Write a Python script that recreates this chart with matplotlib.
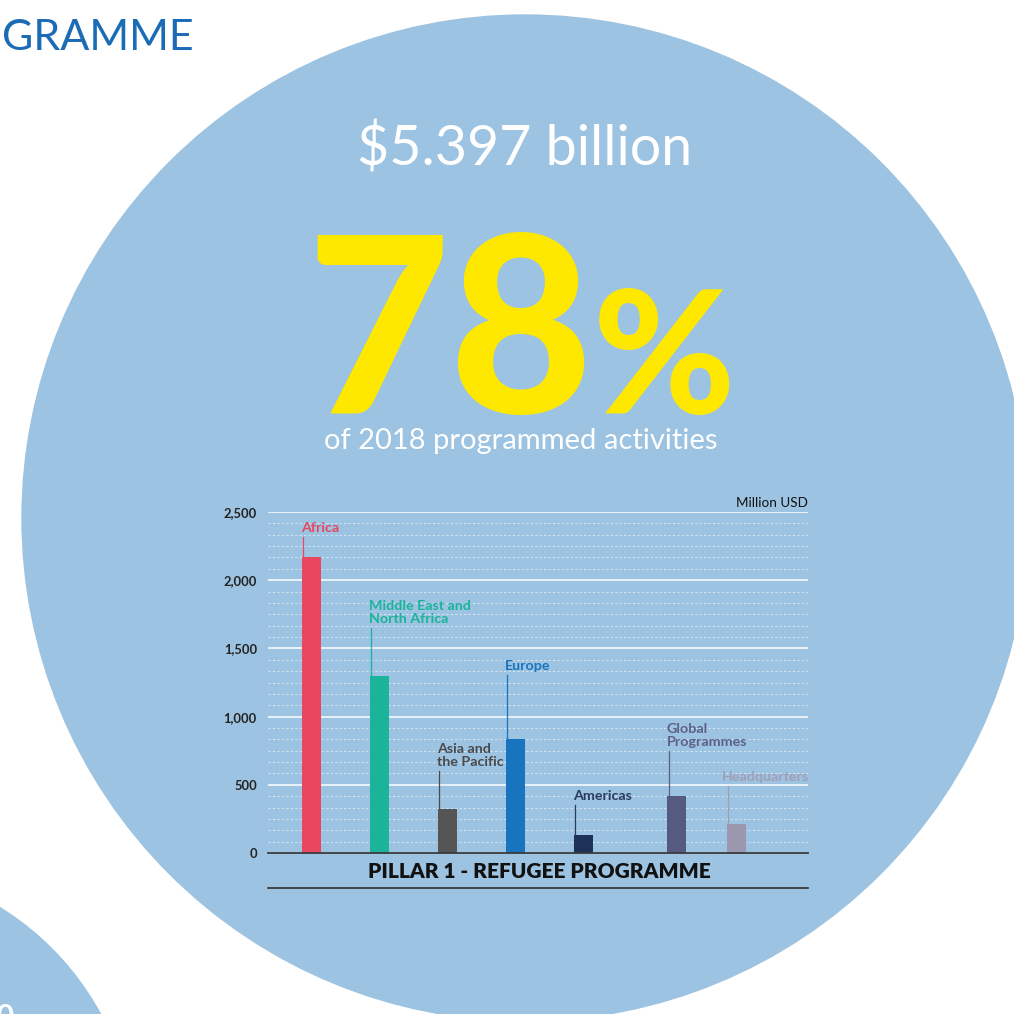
import matplotlib.pyplot as plt
from matplotlib.patches import Circle

regions = ['Africa', 'Middle East and\nNorth Africa', 'Asia and\nthe Pacific', 'Europe',
           'Americas', 'Global\nProgrammes', 'Headquarters']
budget = [2170, 1300, 322, 836, 132, 418, 213]   # million USD
colors = ['#E8475F', '#1BB39A', '#555555', '#1874BE', '#1E3258', '#565A80', '#9B97AE']
text_colors = ['#E8475F', '#1BB39A', '#4A4A4A', '#1874BE', '#2B3A5E', '#5E6088', '#A29EB6']
# bar positions and heights of the label leader lines
xpos = [0, 1, 2, 3, 4, 5.37, 6.25]
label_y = [2317, 1650, 601, 1305, 352, 748, 491]
yticks = [0, 500, 1000, 1500, 2000, 2500]
ytick_labels = ['0', '500', '1,000', '1,500', '2,000', '2,500']

BG = '#9CC3E1'
W = 1014

fig = plt.figure(figsize=(10.14, 10.14), dpi=100)
fig.patch.set_facecolor('white')

bg = fig.add_axes([0, 0, 1, 1])
bg.set_xlim(0, W)
bg.set_ylim(W, 0)
bg.axis('off')
bg.add_patch(Circle((525, 518), 503, color=BG, zorder=0))
bg.add_patch(Circle((-150, 1150), 285, color=BG, zorder=0))
# page number, cut off by the page edge as in the original
bg.text(-20, 1026, '20', color='white', fontsize=22, fontweight='bold',
        family='Lato', va='baseline', ha='left')

bg.text(2, 50, 'GRAMME', color='#1B6CB5', fontsize=31, family='Lato',
        fontweight='normal', va='baseline', ha='left')
bg.text(525, 165, '$5.397 billion', color='white', fontsize=40, family='Lato',
        fontweight='normal', va='baseline', ha='center')
bg.text(593, 413, '78', color='#FFE800', fontsize=178, family='Lato',
        fontweight='black', va='baseline', ha='right')
bg.text(593, 413, '%', color='#FFE800', fontsize=124, family='Lato',
        fontweight='black', va='baseline', ha='left')
bg.text(521, 449, 'of 2018 programmed activities', color='white', fontsize=21,
        family='Lato', va='baseline', ha='center')

# title strip under the chart
bg.text(539, 878, 'PILLAR 1 - REFUGEE PROGRAMME', color='#111111', fontsize=15,
        family='Lato', fontweight='heavy', va='baseline', ha='center')
bg.plot([268, 808], [888, 888], color='#2E2E2E', lw=1.2)

ax = fig.add_axes([268 / W, 1 - 853 / W, 540 / W, 341 / W])
ax.set_facecolor('none')
ax.set_xlim(-0.64, 7.30)
ax.set_ylim(0, 2500)

for y in range(0, 2501, 500):
    ax.axhline(y, color='white', lw=1.1, zorder=1)
for i in range(30):
    y = i * 2500 / 30
    if i % 6:
        ax.axhline(y, color='white', lw=0.8, alpha=0.55, ls=(0, (2, 2)), zorder=1)

bw = 0.28
ax.bar(xpos, budget, width=bw, color=colors, zorder=3)

for x, v, ly, lab, tc in zip(xpos, budget, label_y, regions, text_colors):
    xl = x - bw / 2 + 0.02
    ax.plot([xl, xl], [v, ly], color=tc, lw=0.9, zorder=2)
    dx = -0.1 if lab == 'Headquarters' else -0.03
    ax.text(xl + dx, ly + 20, lab, color=tc, fontsize=10.3, family='Lato',
            fontweight='bold', va='bottom', ha='left', linespacing=1.1)

ax.text(1.0, 1.01, 'Million USD', transform=ax.transAxes, fontsize=9.7,
        family='Lato', color='#111111', ha='right', va='bottom')

ax.set_yticks(yticks)
ax.set_yticklabels(ytick_labels, fontsize=9.3, family='Lato', fontweight='bold',
                   color='#222222')
ax.set_xticks([])
ax.tick_params(axis='y', length=0, pad=8)
for s in ['top', 'right', 'left']:
    ax.spines[s].set_visible(False)
ax.spines['bottom'].set_color('#3A3A3A')
ax.spines['bottom'].set_linewidth(1.3)
ax.spines['bottom'].set_zorder(4)

fig.savefig('out.png', dpi=100)
